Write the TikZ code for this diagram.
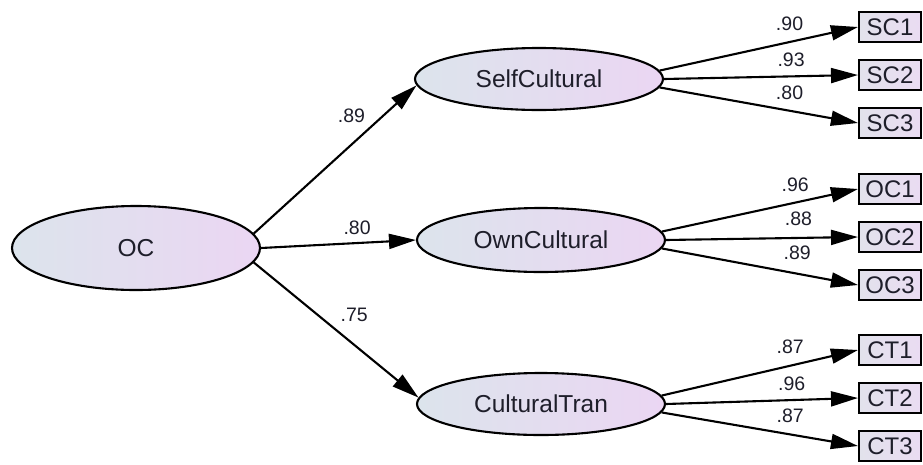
\documentclass[tikz,border=0pt]{standalone}
\usepackage{fontspec}
\setmainfont{Liberation Sans}
\usetikzlibrary{shapes.geometric,arrows.meta}

\definecolor{latL}{HTML}{DCE4EC}
\definecolor{latR}{HTML}{EBD6F3}
\definecolor{obsL}{HTML}{E2E2EC}
\definecolor{obsR}{HTML}{EADCF2}
\definecolor{ink}{HTML}{1E1E2A}

\tikzset{
  latent/.style={ellipse, draw=black, line width=2.1pt, inner sep=0pt,
    left color=latL, right color=latR, text=ink,
    font=\fontsize{24.5}{29}\selectfont},
  obsbox/.style={rectangle, draw=black, line width=2.1pt, inner sep=0pt,
    minimum width=62pt, minimum height=30pt,
    left color=obsL, right color=obsR, text=ink,
    font=\fontsize{24}{28}\selectfont},
  path/.style={draw=black, line width=2.1pt,
    -{Triangle[length=27pt,width=15pt]}},
  wt/.style={text=ink, inner sep=0pt, font=\fontsize{19.5}{22}\selectfont},
}

\begin{document}
\begin{tikzpicture}[x=1pt, y=-1pt]
  \useasboundingbox (0,0) rectangle (923,464);

  % latent variables
  \node[latent, minimum width=248pt, minimum height=84pt] (OC)   at (136,248) {OC};
  \node[latent, minimum width=248pt, minimum height=62pt] (Self) at (539,79)  {SelfCultural};
  \node[latent, minimum width=248pt, minimum height=64pt] (Own)  at (541,240) {OwnCultural};
  \node[latent, minimum width=248pt, minimum height=62pt] (Tran) at (541,404) {CulturalTran};

  % observed indicators
  \node[obsbox] (SC1) at (890,27)  {SC1};
  \node[obsbox] (SC2) at (890,75)  {SC2};
  \node[obsbox] (SC3) at (890,123) {SC3};
  \node[obsbox] (OC1) at (890,189) {OC1};
  \node[obsbox] (OC2) at (890,237) {OC2};
  \node[obsbox] (OC3) at (890,285) {OC3};
  \node[obsbox] (CT1) at (890,350) {CT1};
  \node[obsbox] (CT2) at (890,398) {CT2};
  \node[obsbox] (CT3) at (890,446) {CT3};

  % second-order loadings
  \draw[path] (OC.7)    -- node[wt, pos=0.60, yshift=29pt] {.89} (Self.183);
  \draw[path] (OC.east) -- node[wt, pos=0.62, yshift=15pt] {.80} (Own.west);
  \draw[path] (OC.-7)   -- node[wt, pos=0.61, yshift=30pt] {.75} (Tran.177);

  % first-order loadings
  \draw[path] (Self.4)    -- node[wt, pos=0.655, yshift=18pt] {.90} (SC1.west);
  \draw[path] (Self.east) -- node[wt, pos=0.655, yshift=17pt] {.93} (SC2.west);
  \draw[path] (Self.-4)   -- node[wt, pos=0.655, yshift=18pt] {.80} (SC3.west);

  \draw[path] (Own.4.5)  -- node[wt, pos=0.68, yshift=18pt] {.96} (OC1.west);
  \draw[path] (Own.east) -- node[wt, pos=0.69, yshift=19pt] {.88} (OC2.west);
  \draw[path] (Own.-4.5) -- node[wt, pos=0.69, yshift=21pt] {.89} (OC3.west);

  \draw[path] (Tran.4.5)  -- node[wt, pos=0.655, yshift=19pt] {.87} (CT1.west);
  \draw[path] (Tran.east) -- node[wt, pos=0.655, yshift=16pt] {.96} (CT2.west);
  \draw[path] (Tran.-4.5) -- node[wt, pos=0.655, yshift=19pt] {.87} (CT3.west);
\end{tikzpicture}
\end{document}
